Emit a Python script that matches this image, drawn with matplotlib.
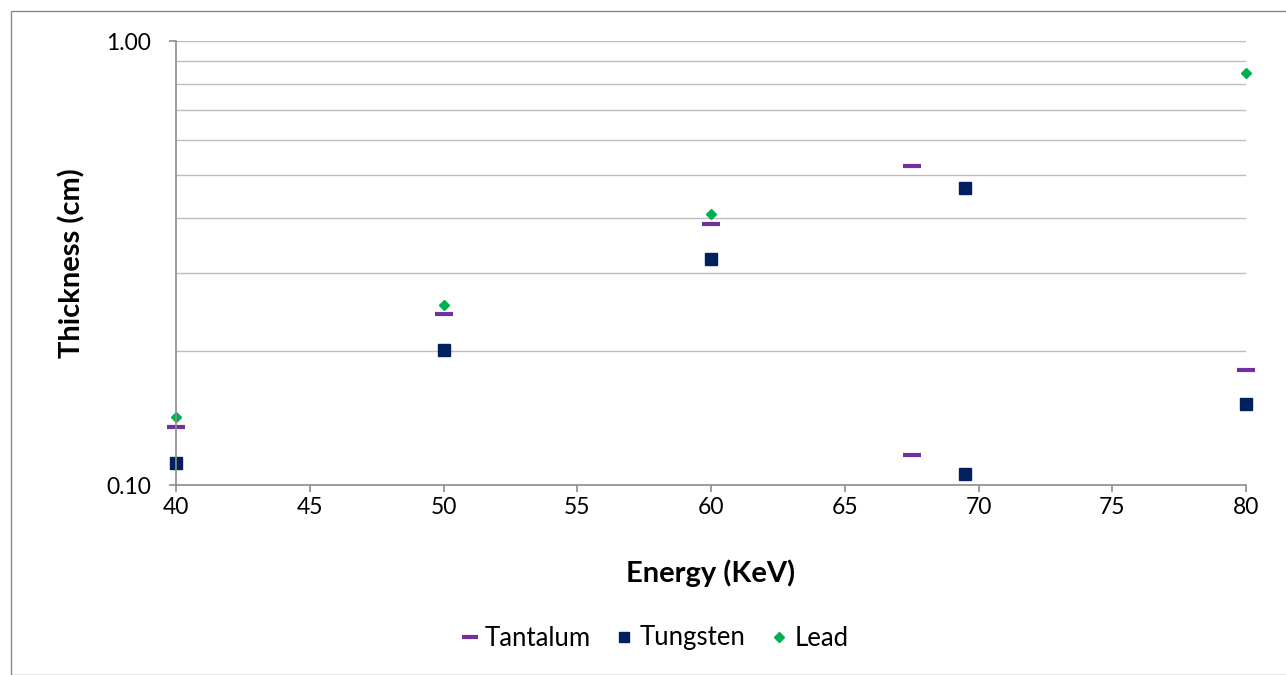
import matplotlib
matplotlib.use("Agg")
import matplotlib.pyplot as plt
from matplotlib.patches import Rectangle
from matplotlib.ticker import FixedLocator, NullFormatter, FixedFormatter

plt.rcParams['font.family'] = ['Lato', 'DejaVu Sans']

tantalum_x = [40, 50, 60, 67.5, 67.5, 80]
tantalum_y = [0.135, 0.243, 0.387, 0.523, 0.117, 0.182]
tungsten_x = [40, 50, 60, 69.5, 69.5, 80]
tungsten_y = [0.112, 0.201, 0.323, 0.467, 0.106, 0.152]
lead_x = [40, 50, 60, 80]
lead_y = [0.142, 0.254, 0.408, 0.847]

W, H = 1286, 675
fig = plt.figure(figsize=(W / 100, H / 100), dpi=100)
fig.patches.append(Rectangle((11 / W, 0), 1.2, 1 - 11 / H, transform=fig.transFigure,
                             fill=False, edgecolor='#888888', linewidth=1.0))

ax = fig.add_axes([176 / W, 1 - 485 / H, (1246 - 176) / W, (485 - 41) / H])
ax.set_yscale('log')
ax.set_xlim(40, 80)
ax.set_ylim(0.1, 1.0)

ax.yaxis.set_major_locator(FixedLocator([0.1, 1.0]))
ax.yaxis.set_major_formatter(FixedFormatter(['0.10', '1.00']))
ax.yaxis.set_minor_locator(FixedLocator([0.2, 0.3, 0.4, 0.5, 0.6, 0.7, 0.8, 0.9]))
ax.yaxis.set_minor_formatter(NullFormatter())
ax.set_xticks([40, 45, 50, 55, 60, 65, 70, 75, 80])

ax.grid(True, which='both', axis='y', color='#bdbdbd', linewidth=1.0)
ax.set_axisbelow(True)
for s in ['top', 'right']:
    ax.spines[s].set_visible(False)
for s in ['left', 'bottom']:
    ax.spines[s].set_color('#8c8c8c')
    ax.spines[s].set_linewidth(1.2)
ax.tick_params(axis='both', which='major', direction='out', length=5, color='#8c8c8c',
               width=1.2, labelsize=16.5)
ax.tick_params(axis='x', which='major', pad=4)
ax.tick_params(axis='y', which='major', pad=13)
ax.tick_params(axis='y', which='minor', length=0)

ax.plot(tantalum_x, tantalum_y, linestyle='none', marker='_', markersize=13,
        markeredgewidth=3, color='#7030A0', label='Tantalum', clip_on=False)
ax.plot(tungsten_x, tungsten_y, linestyle='none', marker='s', markersize=8.5,
        color='#002060', label='Tungsten', clip_on=False)
ax.plot(lead_x, lead_y, linestyle='none', marker='D', markersize=5.5,
        color='#00B050', label='Lead', clip_on=False)

ax.set_xlabel('Energy (KeV)', fontsize=21, fontweight='bold')
ax.set_ylabel('Thickness (cm)', fontsize=21, fontweight='bold')
ax.xaxis.set_label_coords(0.5, (485 - 559) / 444)
ax.yaxis.set_label_coords((85 - 176) / 1070, 0.5)

ax.legend(loc='center', bbox_to_anchor=(654 / W, 1 - 638 / H),
          bbox_transform=fig.transFigure, ncol=3, frameon=False, fontsize=18.5,
          handlelength=0.8, handletextpad=0.2, columnspacing=0.9, markerscale=0.9)

fig.savefig('out.png', dpi=100)
